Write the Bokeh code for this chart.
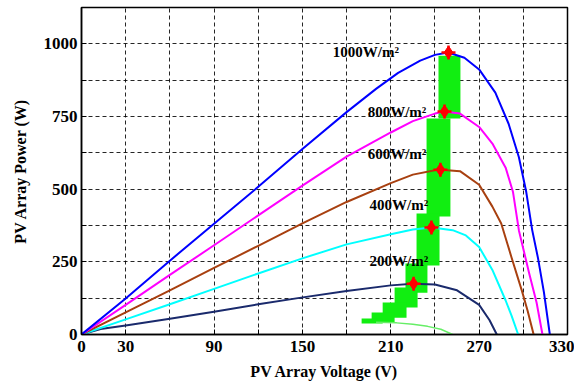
from bokeh.plotting import figure
from bokeh.models import FixedTicker, Range1d
from bokeh.core.properties import value
from bokeh.embed import file_html
from bokeh.resources import INLINE

# ---- data ----
blue_v = [0, 30, 60, 90, 120, 150, 180, 200, 215, 230, 240, 249, 260, 270, 281, 290, 297, 302, 306, 310, 314, 318]
blue_p = [0, 124, 254, 381, 508, 638, 765, 845, 900, 942, 962, 970, 952, 912, 832, 725, 610, 490, 360, 262, 145, 0]

mag_v = [0, 30, 60, 90, 120, 150, 180, 210, 225, 240, 246, 257, 270, 279, 288, 293, 297, 304, 309, 313]
mag_p = [0, 102, 205, 307, 410, 512, 612, 695, 734, 760, 767, 760, 714, 657, 574, 490, 358, 210, 110, 0]

brown_v = [0, 30, 60, 90, 120, 150, 180, 210, 225, 240, 244, 257, 270, 279, 285, 292, 299, 303, 307]
brown_p = [0, 76, 152, 229, 305, 382, 456, 521, 550, 565, 567, 562, 515, 440, 382, 265, 151, 80, 0]

cyan_v = [0, 30, 60, 90, 120, 150, 180, 210, 225, 238, 252, 261, 270, 279, 288, 292, 296.5]
cyan_p = [0, 52, 104, 157, 210, 262, 310, 345, 361, 368, 359, 341, 301, 222, 117, 65, 0]

navy_v = [0, 13, 30, 60, 90, 120, 148, 180, 210, 225, 240, 255, 270, 277, 282]
navy_p = [0, 19, 31, 54, 78, 104, 126, 150, 169, 175, 172, 152, 102, 50, 0]

trace_v = [200, 214, 225, 235, 244, 252]
trace_p = [42, 40, 35, 28, 18, 0]

# MPPT tracking region (stepped blocks)
green_v0 = [242.4, 234.3, 227.5, 220.0, 212.6, 204.5, 197.0, 190.2]
green_v1 = [257.3, 250.5, 243.1, 234.9, 228.2, 220.7, 212.6, 204.5]
green_p0 = [743, 406, 237, 144, 93, 58, 41, 38]
green_p1 = [959, 743, 416, 244, 162, 110, 76, 55]

peak_v = [249.2, 246.5, 243.7, 237.6, 225.5]
peak_p = [970, 767, 567, 368, 175]

irr_labels = ["1000W/m²", "800W/m²", "600W/m²", "400W/m²", "200W/m²"]
lab_v = [170.6, 194.3, 194.3, 195.6, 195.6]
lab_p = [972, 766, 621, 444, 254]

x_ticks = [0, 30, 60, 90, 120, 150, 180, 210, 240, 270, 300, 330]
x_labeled = [0, 30, 90, 150, 210, 270, 330]
y_ticks = [0, 125, 250, 375, 500, 625, 750, 875, 1000, 1125]
y_labeled = [0, 250, 500, 750, 1000]

FONT = "Liberation Serif"

p = figure(width=574, height=387, x_range=Range1d(0, 330), y_range=Range1d(0, 1125),
           output_backend="svg", toolbar_location=None,
           min_border_left=81, min_border_right=7, min_border_top=7, min_border_bottom=53)

p.xaxis.ticker = FixedTicker(ticks=x_ticks)
p.xaxis.major_label_overrides = {t: "" for t in x_ticks if t not in x_labeled}
p.yaxis.ticker = FixedTicker(ticks=y_ticks)
p.yaxis.major_label_overrides = {t: "" for t in y_ticks if t not in y_labeled}

for ax in (p.xaxis, p.yaxis):
    ax.major_tick_in = 5
    ax.major_tick_out = 0
    ax.minor_tick_line_color = None
    ax.axis_line_color = "black"
    ax.axis_line_width = 1.5
    ax.major_tick_line_color = "black"
    ax.major_label_text_font = FONT
    ax.major_label_text_font_style = "bold"
    ax.major_label_text_font_size = "17px"
    ax.major_label_text_color = "black"
    ax.axis_label_text_font = FONT
    ax.axis_label_text_font_style = "bold"
    ax.axis_label_text_font_size = "16px"
    ax.axis_label_text_color = "black"

p.xaxis.axis_label = "PV Array Voltage (V)"
p.yaxis.axis_label = "PV Array Power (W)"
p.xaxis.major_label_standoff = 6
p.xaxis.axis_label_standoff = 8
p.yaxis.major_label_standoff = 4
p.yaxis.axis_label_standoff = 12

p.grid.grid_line_color = "black"
p.grid.grid_line_dash = "4 3"
p.grid.grid_line_alpha = 0.85
p.outline_line_color = "black"
p.outline_line_width = 1.5
p.outline_line_alpha = 1.0

p.quad(left=green_v0, right=green_v1, bottom=green_p0, top=green_p1,
       fill_color="#11EE11", line_color=None)
p.line(trace_v, trace_p, line_color="#66EE66", line_width=1.5)

p.line(navy_v, navy_p, line_color="#1A2A6C", line_width=2, line_join="round")
p.line(cyan_v, cyan_p, line_color="#00FFFF", line_width=2, line_join="round")
p.line(brown_v, brown_p, line_color="#A84010", line_width=2, line_join="round")
p.line(mag_v, mag_p, line_color="#FF00FF", line_width=2, line_join="round")
p.line(blue_v, blue_p, line_color="#0000FF", line_width=2, line_join="round")

p.scatter(peak_v, peak_p, marker="diamond", size=13, color="#FF0000")
p.scatter(peak_v, peak_p, marker="cross", size=14, line_color="#FF0000", line_width=2.5)

p.text(x=lab_v, y=lab_p, text=irr_labels, text_font=value(FONT), text_font_style="bold",
       text_font_size="15px", text_baseline="middle", text_align="left", text_color="black")

open("out.html", "w").write(file_html(p, INLINE))
